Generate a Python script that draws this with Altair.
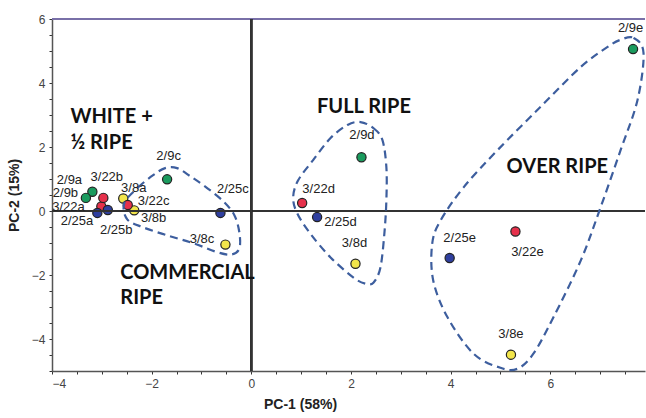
import altair as alt
import pandas as pd

# ---- data ----
samples = ["2/9a", "2/9b", "3/22a", "3/22b", "2/25a", "2/25b", "3/8a", "3/8b",
           "3/22c", "2/9c", "2/25c", "3/8c",
           "3/22d", "2/9d", "2/25d", "3/8d",
           "2/9e", "3/22e", "2/25e", "3/8e"]
dates = ["2/9", "2/9", "3/22", "3/22", "2/25", "2/25", "3/8", "3/8",
         "3/22", "2/9", "2/25", "3/8",
         "3/22", "2/9", "2/25", "3/8",
         "2/9", "3/22", "2/25", "3/8"]
pc1 = [-3.19, -3.32, -3.01, -2.97, -3.09, -2.88, -2.57, -2.35,
       -2.48, -1.69, -0.62, -0.52,
       1.02, 2.21, 1.32, 2.09,
       7.66, 5.30, 3.98, 5.21]
pc2 = [0.60, 0.41, 0.14, 0.41, -0.06, 0.03, 0.39, 0.02,
       0.19, 0.99, -0.06, -1.05,
       0.25, 1.68, -0.19, -1.65,
       5.06, -0.64, -1.47, -4.49]
# label anchor (centre of text) in data units
label_x = [-3.65, -3.73, -3.67, -2.90, -3.50, -2.71, -2.36, -1.96,
           -1.96, -1.66, -0.37, -0.99,
           1.35, 2.22, 1.79, 2.07,
           7.61, 5.54, 4.18, 5.21]
label_y = [0.98, 0.55, 0.12, 1.07, -0.31, -0.58, 0.73, -0.21,
           0.31, 1.71, 0.70, -0.87,
           0.70, 2.37, -0.34, -0.99,
           5.73, -1.28, -0.83, -3.84]

date_order = ["2/9", "3/22", "2/25", "3/8"]
date_colors = ["#1a9b5e", "#e6314b", "#2f3f9f", "#f2e54b"]

# dashed group outlines (closed curves)
commercial_x = [-2.55, -2.27, -1.97, -1.73, -1.49, -1.20, -0.88, -0.56, -0.34, -0.24,
                -0.24, -0.40, -0.68, -1.16, -1.69, -2.17, -2.49]
commercial_y = [0.24, 0.74, 1.12, 1.34, 1.34, 1.06, 0.71, 0.30, -0.13, -0.67,
                -1.17, -1.36, -1.29, -1.01, -0.76, -0.51, -0.26]
full_x = [2.19, 2.45, 2.63, 2.71, 2.71, 2.67, 2.59, 2.45, 2.29, 2.05, 1.59, 1.18,
          0.92, 0.84, 0.94, 1.24, 1.59, 1.93]
full_y = [2.78, 2.59, 2.22, 1.37, 0.34, -0.70, -1.77, -2.24, -2.27, -2.08, -1.45, -0.70,
          -0.07, 0.43, 0.96, 1.59, 2.28, 2.69]
over_x = [7.41, 7.67, 7.87, 7.75, 7.41, 7.01, 6.61, 6.06, 5.66, 5.34, 5.00, 4.46,
          3.94, 3.65, 3.63, 3.80, 4.26, 4.94, 5.80, 6.61, 7.15]
over_y = [5.35, 5.41, 4.94, 3.47, 1.90, 0.12, -1.55, -3.33, -4.46, -4.93, -4.90, -4.46,
          -3.33, -2.17, -1.02, -0.29, 0.74, 1.90, 3.25, 4.50, 5.13]

group_text = ["WHITE +", "½ RIPE", "COMMERCIAL", "RIPE", "FULL RIPE", "OVER RIPE"]
group_x = [-3.63, -3.63, -2.63, -2.63, 2.26, 6.14]
group_y = [2.94, 2.12, -1.93, -2.71, 3.26, 1.38]
group_align = ["left", "left", "left", "left", "center", "center"]

x_ticks = [v / 2 for v in range(-8, 16)]
y_ticks = [v / 2 for v in range(-10, 13)]

# ---- tables ----
pts = pd.DataFrame({"sample": samples, "date": dates, "pc1": pc1, "pc2": pc2,
                    "lx": label_x, "ly": label_y})
outl = pd.concat([
    pd.DataFrame({"grp": "commercial", "x": commercial_x, "y": commercial_y,
                  "i": range(len(commercial_x))}),
    pd.DataFrame({"grp": "full", "x": full_x, "y": full_y, "i": range(len(full_x))}),
    pd.DataFrame({"grp": "over", "x": over_x, "y": over_y, "i": range(len(over_x))}),
])
grp = pd.DataFrame({"t": group_text, "x": group_x, "y": group_y, "a": group_align})

xs = alt.Scale(domain=[-4, 7.9], nice=False, zero=False)
ys = alt.Scale(domain=[-5, 6], nice=False, zero=False)

lab_expr = "abs(datum.value % 2) < 0.01 ? format(datum.value, 'd') : ''"
xaxis = alt.Axis(values=x_ticks, labelExpr=lab_expr, labelOverlap=False,
                 grid=False, tickSize=3, tickColor="#333", domainColor="#555",
                 domainWidth=1.5, labelFont="Liberation Sans", labelFontSize=12,
                 labelColor="#444", labelPadding=4, title="PC-1 (58%)",
                 titleFont="Liberation Sans", titleFontSize=14, titleFontWeight="bold",
                 titleColor="#222", titleX=248, titlePadding=8)
yaxis = alt.Axis(values=y_ticks, labelExpr=lab_expr, labelOverlap=False,
                 grid=False, tickSize=3, tickColor="#333", domainColor="#555",
                 domainWidth=1.5, labelFont="Liberation Sans", labelFontSize=12,
                 labelColor="#444", labelPadding=4, title="PC-2 (15%)",
                 titleFont="Liberation Sans", titleFontSize=14, titleFontWeight="bold",
                 titleColor="#222", titlePadding=10)


def X(field=None, datum=None):
    if datum is not None:
        return alt.X(datum=datum, type="quantitative", scale=xs, axis=xaxis)
    return alt.X(field, type="quantitative", scale=xs, axis=xaxis)


def Y(field=None, datum=None):
    if datum is not None:
        return alt.Y(datum=datum, type="quantitative", scale=ys, axis=yaxis)
    return alt.Y(field, type="quantitative", scale=ys, axis=yaxis)


points = alt.Chart(pts).mark_point(
    filled=True, size=85, stroke="#222", strokeWidth=1.2, opacity=1).encode(
    x=X("pc1"), y=Y("pc2"),
    fill=alt.Fill("date:N", scale=alt.Scale(domain=date_order, range=date_colors),
                  legend=None))

top_rule = alt.Chart(pts).mark_rule(color="#7a70a8", strokeWidth=1.5).encode(
    y=Y(datum=6))
h0 = alt.Chart(pts).mark_rule(color="#333", strokeWidth=1.5).encode(y=Y(datum=0))
v0 = alt.Chart(pts).mark_rule(color="#333", strokeWidth=1.5).encode(x=X(datum=0))

outlines = alt.Chart(outl).mark_line(
    interpolate="cardinal-closed", color="#3d5e9e", strokeWidth=2.2,
    strokeDash=[8, 5]).encode(x=X("x"), y=Y("y"), detail="grp:N", order="i:Q")

labels = alt.Chart(pts).mark_text(
    font="Liberation Sans", fontSize=13, color="#222", baseline="middle",
    align="center").encode(x=X("lx"), y=Y("ly"), text="sample:N")

glabels_l = alt.Chart(grp[grp.a == "left"]).mark_text(
    font="Lato", fontSize=20, fontWeight="bold", color="#111", align="left",
    baseline="middle").encode(x=X("x"), y=Y("y"), text="t:N")
glabels_c = alt.Chart(grp[grp.a == "center"]).mark_text(
    font="Lato", fontSize=20, fontWeight="bold", color="#111", align="center",
    baseline="middle").encode(x=X("x"), y=Y("y"), text="t:N")

chart = alt.layer(points, top_rule, h0, v0, outlines, labels, glabels_l, glabels_c).properties(
    width=593, height=352, autosize="none",
    padding={"left": 52, "top": 19, "right": 1, "bottom": 47},
    background="white").configure_view(stroke=None)

chart.save("out.html", embed_options={"renderer": "svg", "actions": False})
